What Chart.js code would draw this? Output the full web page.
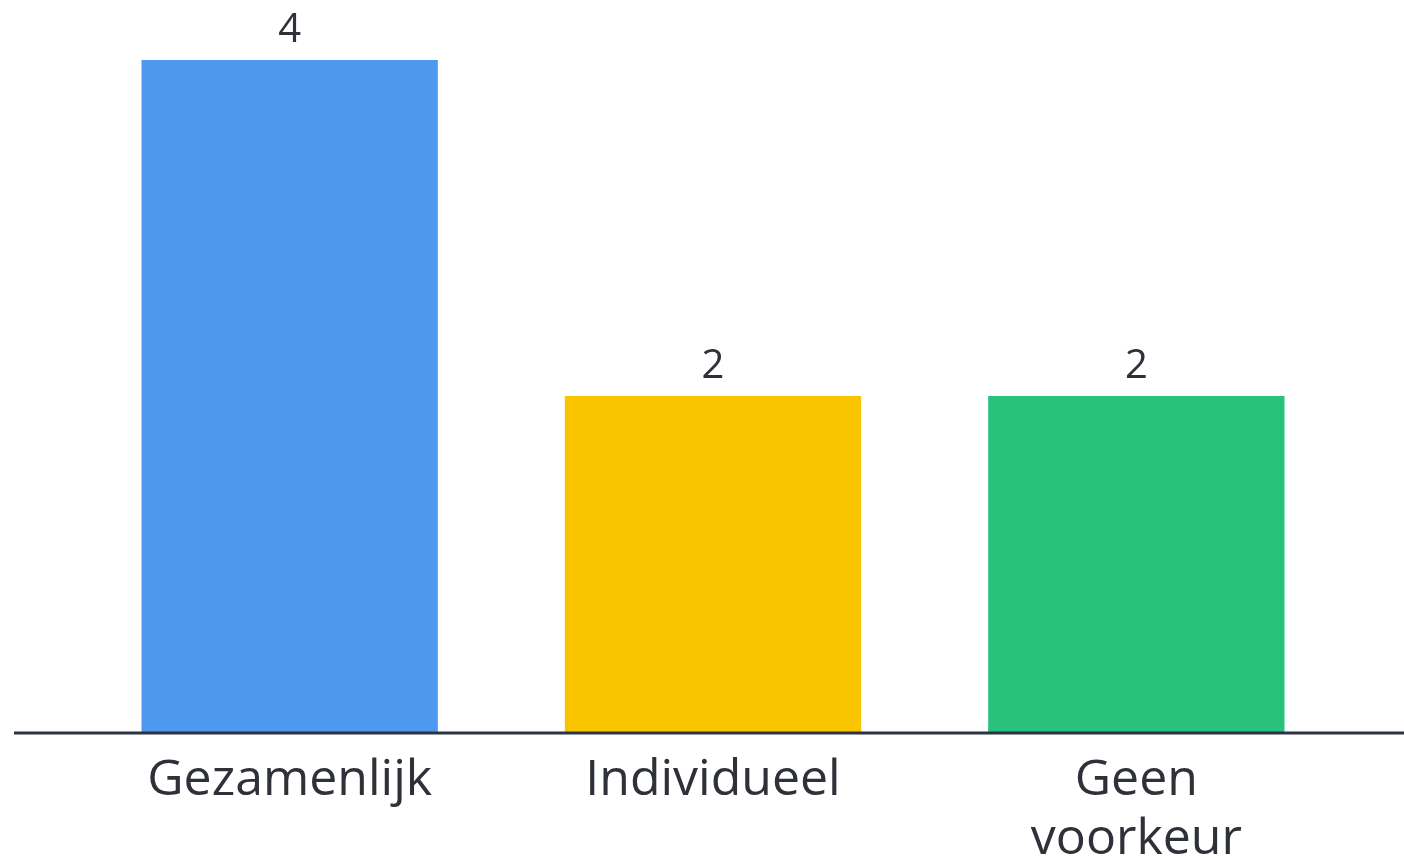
<!DOCTYPE html>
<html>
<head>
<meta charset="utf-8">
<script src="https://cdn.jsdelivr.net/npm/chart.js@4.4.1/dist/chart.umd.min.js"></script>
<style>
  html, body { margin: 0; padding: 0; background: #ffffff; }
  #wrap { width: 1404px; height: 860px; position: relative; }
</style>
</head>
<body>
<div id="wrap"><canvas id="chart"></canvas></div>
<script>
// Chart data
const categories = ['Gezamenlijk', 'Individueel', ['Geen', 'voorkeur']];
const votes = [4, 2, 2];
const barColors = ['#4F98EF', '#FBC401', '#28C27D'];

const textColor = '#2E3138';
const axisColor = '#2D3440';
const fontFamily = '"Open Sans", "Noto Sans", sans-serif';

// value labels above each bar
const valueLabels = {
    id: 'valueLabels',
    afterDatasetsDraw(chart) {
        const ctx = chart.ctx;
        const meta = chart.getDatasetMeta(0);
        ctx.save();
        ctx.fillStyle = textColor;
        ctx.font = '40px ' + fontFamily;
        ctx.textAlign = 'center';
        ctx.textBaseline = 'alphabetic';
        meta.data.forEach((bar, i) => {
            ctx.fillText(String(votes[i]), bar.x, bar.y - 18);
        });
        ctx.restore();
    }
};

// baseline runs across nearly the full width
const baseLine = {
    id: 'baseLine',
    afterDatasetsDraw(chart) {
        const ctx = chart.ctx;
        const y = chart.scales.y.getPixelForValue(0);
        ctx.save();
        ctx.strokeStyle = axisColor;
        ctx.lineWidth = 3;
        ctx.beginPath();
        ctx.moveTo(14, y + 1);
        ctx.lineTo(chart.width, y + 1);
        ctx.stroke();
        ctx.restore();
    }
};

new Chart(document.getElementById('chart'), {
    type: 'bar',
    data: {
        labels: categories,
        datasets: [{
            data: votes,
            backgroundColor: barColors,
            borderWidth: 0,
            barPercentage: 0.7,
            categoryPercentage: 1
        }]
    },
    options: {
        responsive: true,
        maintainAspectRatio: false,
        animation: false,
        layout: { padding: { left: 78, right: 56, top: 60, bottom: 0 } },
        plugins: { legend: { display: false }, tooltip: { enabled: false } },
        scales: {
            x: {
                grid: { display: false },
                border: { display: false },
                ticks: {
                    color: textColor,
                    font: { family: fontFamily, size: 50, lineHeight: 1.18 },
                    padding: 11,
                    maxRotation: 0,
                    autoSkip: false
                },
                afterFit(scale) { scale.height = 128; }
            },
            y: {
                display: false,
                min: 0,
                max: 4
            }
        }
    },
    plugins: [valueLabels, baseLine]
});
</script>
</body>
</html>
